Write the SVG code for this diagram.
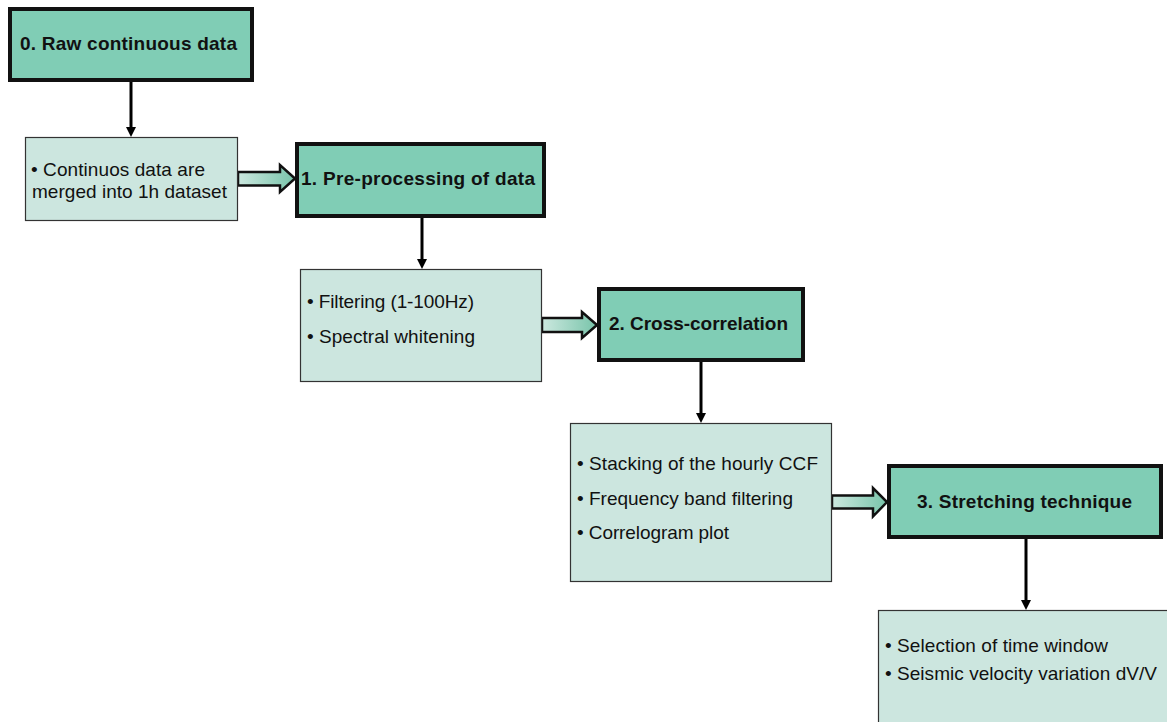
<svg xmlns="http://www.w3.org/2000/svg" width="1167" height="722" viewBox="0 0 1167 722">
<style>
.main{fill:#80cdb5;stroke:#111;stroke-width:4}
.sub{fill:#cce6df;stroke:#333;stroke-width:1.2}
.t{font-family:"Liberation Sans",Arial,sans-serif;font-size:19px;fill:#111}
.b{font-weight:bold}
.conn{stroke:#000;stroke-width:3;fill:none}
.block{fill:url(#g);stroke:#111;stroke-width:2.5;stroke-linejoin:miter}
</style>
<defs>
<linearGradient id="g" x1="0" y1="0" x2="1" y2="0">
<stop offset="0" stop-color="#cce8df"/>
<stop offset="1" stop-color="#78c4aa"/>
</linearGradient>
</defs>
<rect width="1167" height="722" fill="#fff"/>

<g id="connectors">
<line class="conn" x1="131" y1="81" x2="131" y2="128"/><path d="M126,127 L136,127 L131,137 z"/>
<line class="conn" x1="422" y1="217" x2="422" y2="260"/><path d="M417,259 L427,259 L422,269 z"/>
<line class="conn" x1="701" y1="361" x2="701" y2="414"/><path d="M696,413 L706,413 L701,423 z"/>
<line class="conn" x1="1026" y1="538" x2="1026" y2="601"/><path d="M1021,600 L1031,600 L1026,610 z"/>
<path class="block" d="M238,172 L280,172 L280,165 L295,178.5 L280,192 L280,185.5 L238,185.5 z"/>
<path class="block" d="M542,318 L582,318 L582,312 L597,325 L582,338 L582,332 L542,332 z"/>
<path class="block" d="M832,495.5 L873,495.5 L873,488 L887,502 L873,516.5 L873,508.5 L832,508.5 z"/>
</g>

<g id="n0">
<rect class="main" x="10" y="9" width="242" height="71"/>
<text class="t b" x="20" y="50" textLength="217" lengthAdjust="spacing">0. Raw  continuous data</text>
</g>

<g id="n0b">
<rect class="sub" x="25.5" y="137.5" width="212" height="83"/>
<text class="t" x="31" y="176" textLength="174" lengthAdjust="spacing">• Continuos data are</text>
<text class="t" x="32" y="198" textLength="195" lengthAdjust="spacing">merged into 1h dataset</text>
</g>

<g id="n1">
<rect class="main" x="297" y="144" width="247" height="72"/>
<text class="t b" x="301" y="185" textLength="234" lengthAdjust="spacing">1. Pre-processing of data</text>
</g>

<g id="n1b">
<rect class="sub" x="300.5" y="269.5" width="241" height="112"/>
<text class="t" x="307" y="308" textLength="167" lengthAdjust="spacing">• Filtering (1-100Hz)</text>
<text class="t" x="307" y="343" textLength="168" lengthAdjust="spacing">• Spectral whitening</text>
</g>

<g id="n2">
<rect class="main" x="599" y="289" width="204" height="71"/>
<text class="t b" x="609" y="330" textLength="179" lengthAdjust="spacing">2. Cross-correlation</text>
</g>

<g id="n2b">
<rect class="sub" x="570.5" y="423.5" width="261" height="158"/>
<text class="t" x="577" y="470" textLength="241" lengthAdjust="spacing">• Stacking of the hourly CCF</text>
<text class="t" x="577" y="505" textLength="216" lengthAdjust="spacing">• Frequency band filtering</text>
<text class="t" x="577" y="539" textLength="152" lengthAdjust="spacing">• Correlogram plot</text>
</g>

<g id="n3">
<rect class="main" x="889" y="466" width="272" height="71"/>
<text class="t b" x="917" y="508" textLength="215" lengthAdjust="spacing">3. Stretching technique</text>
</g>

<g id="n3b">
<rect class="sub" x="878.5" y="610.5" width="300" height="130"/>
<text class="t" x="885" y="652" textLength="223" lengthAdjust="spacing">• Selection of time window</text>
<text class="t" x="885" y="680" textLength="272" lengthAdjust="spacing">• Seismic velocity variation dV/V</text>
</g>
</svg>
